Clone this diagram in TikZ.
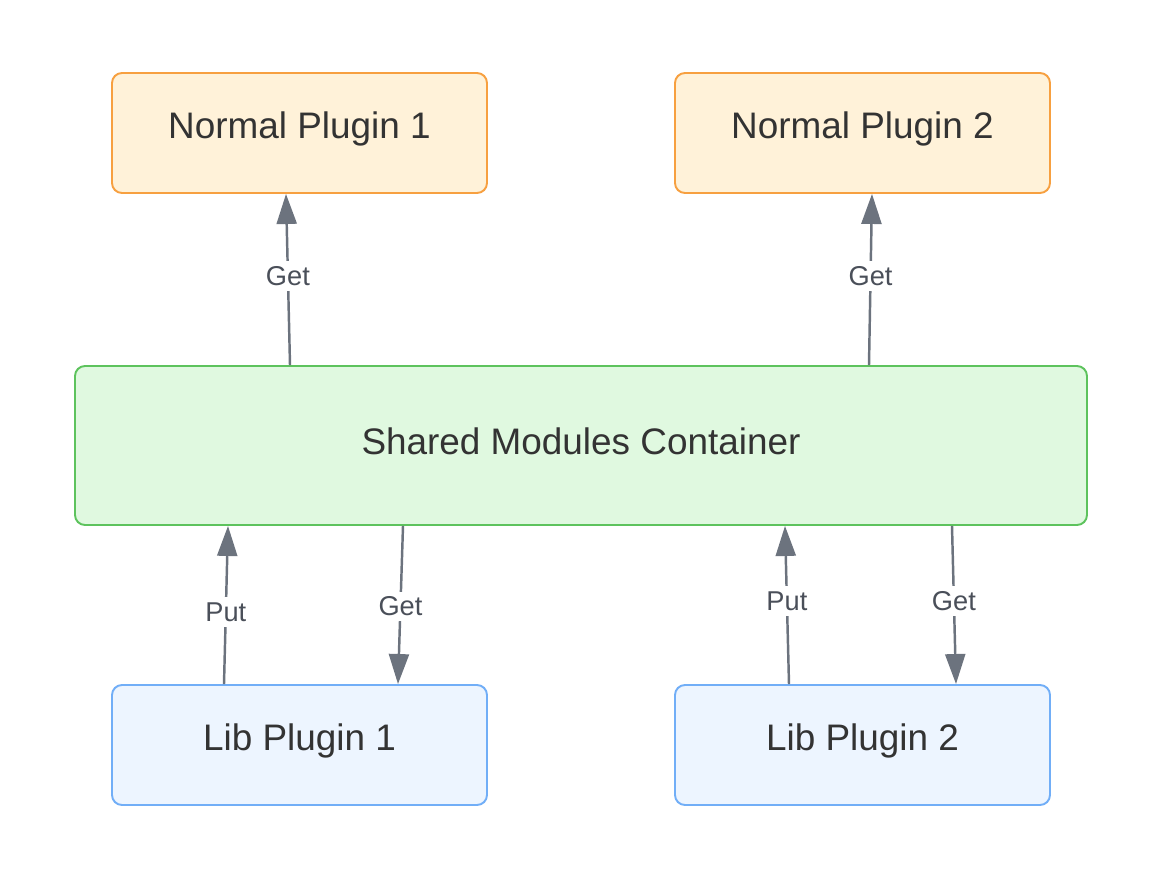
\documentclass[tikz,border=0pt]{standalone}
\usepackage{fontspec}
\setmainfont{Liberation Sans}
\usetikzlibrary{arrows.meta}
\definecolor{normfill}{HTML}{FFF2D9}
\definecolor{normline}{HTML}{F7A040}
\definecolor{sharefill}{HTML}{E0F9E0}
\definecolor{shareline}{HTML}{5DC35D}
\definecolor{libfill}{HTML}{EDF5FF}
\definecolor{libline}{HTML}{71AEF7}
\definecolor{boxtext}{HTML}{333333}
\definecolor{flowgray}{HTML}{6C737E}
\definecolor{lbltext}{HTML}{4A4F59}

\begin{document}
\begin{tikzpicture}[box/.style={rounded corners=0.2cm, line width=1.1pt, minimum width=7.5cm, minimum height=2.4cm, text height=16pt, text depth=9.5pt, text=boxtext, font=\fontsize{21}{25}\selectfont},
normal/.style={box, draw=normline, fill=normfill},
lib/.style={box, draw=libline, fill=libfill},
flow/.style={draw=flowgray, line width=1.4pt, -{Triangle[length=0.6cm, width=0.4cm]}},
lbl/.style={fill=white, text=lbltext, inner sep=3pt, font=\fontsize{15.5}{18}\selectfont}]
\useasboundingbox (0,0) rectangle (23.26,-17.62);

\node[normal] (np1) at (5.99,-2.66) {Normal Plugin 1};
\node[normal] (np2) at (17.25,-2.66) {Normal Plugin 2};
\node[box, draw=shareline, fill=sharefill, minimum width=20.24cm, minimum height=3.18cm, text depth=6.1pt] (shared) at (11.62,-8.91) {Shared Modules Container};
\node[lib] (lp1) at (5.99,-14.9) {Lib Plugin 1};
\node[lib] (lp2) at (17.25,-14.9) {Lib Plugin 2};

\draw[flow] ([xshift=-5.82cm]shared.north) -- node[lbl, pos=0.52] {Get} ([xshift=-0.27cm]np1.south);
\draw[flow] ([xshift=5.76cm]shared.north) -- node[lbl, pos=0.52] {Get} ([xshift=0.19cm]np2.south);
\draw[flow] ([xshift=-1.51cm]lp1.north) -- node[lbl, pos=0.456] {Put} ([xshift=-7.06cm]shared.south);
\draw[flow] ([xshift=-3.56cm]shared.south) -- node[lbl, pos=0.51] {Get} ([xshift=1.97cm]lp1.north);
\draw[flow] ([xshift=-1.47cm]lp2.north) -- node[lbl, pos=0.525] {Put} ([xshift=4.08cm]shared.south);
\draw[flow] ([xshift=7.42cm]shared.south) -- node[lbl, pos=0.475] {Get} ([xshift=1.87cm]lp2.north);
\end{tikzpicture}
\end{document}
